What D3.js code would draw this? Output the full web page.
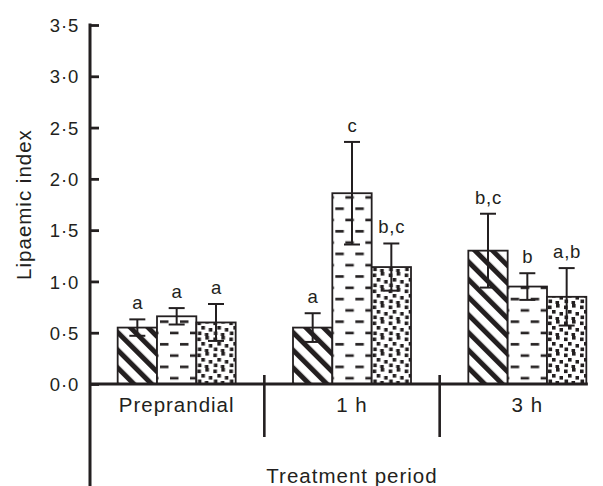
<!DOCTYPE html>
<html>
<head>
<meta charset="utf-8">
<script src="https://cdn.jsdelivr.net/npm/d3@7"></script>
<style>
  html, body { margin: 0; padding: 0; background: #fff; }
  svg { display: block; }
  text { font-family: "Liberation Sans", Arial, Helvetica, sans-serif; fill: #231f20; }
</style>
</head>
<body>
<div id="chart"></div>
<script>
// ---- data ----
const groups = ["Preprandial", "1 h", "3 h"];
const seriesKeys = ["s1", "s2", "s3"];
const values1 = [0.55, 0.55, 1.30];
const values2 = [0.66, 1.86, 0.95];
const values3 = [0.60, 1.14, 0.85];
const errors1 = [0.08, 0.14, 0.36];
const errors2 = [0.08, 0.50, 0.13];
const errors3 = [0.18, 0.23, 0.28];
const labels1 = ["a", "a", "b,c"];
const labels2 = ["a", "c", "b"];
const labels3 = ["a", "b,c", "a,b"];
const yTicks = [0, 0.5, 1.0, 1.5, 2.0, 2.5, 3.0, 3.5];
const yTitle = "Lipaemic index";
const xTitle = "Treatment period";

const seriesValues = [values1, values2, values3];
const seriesErrors = [errors1, errors2, errors3];
const seriesLabels = [labels1, labels2, labels3];
const fills = ["url(#pStripes)", "url(#pDashes)", "url(#pDots)"];

const W = 603, H = 486;
const ink = "#231f20";

const svg = d3.select("#chart").append("svg").attr("width", W).attr("height", H);

// ---- patterns ----
const defs = svg.append("defs");
const pS = defs.append("pattern").attr("id", "pStripes")
  .attr("patternUnits", "userSpaceOnUse").attr("width", 12.5).attr("height", 12.5)
  .attr("patternTransform", "rotate(-45)");
pS.append("rect").attr("width", 12.5).attr("height", 12.5).attr("fill", "#fff");
pS.append("rect").attr("width", 5).attr("height", 12.5).attr("fill", ink);

const pD = defs.append("pattern").attr("id", "pDashes")
  .attr("patternUnits", "userSpaceOnUse").attr("width", 20).attr("height", 22.6);
pD.append("rect").attr("width", 20).attr("height", 22.6).attr("fill", "#fff");
pD.append("rect").attr("x", 3).attr("y", 4).attr("width", 8.5).attr("height", 2.6).attr("fill", ink);
pD.append("rect").attr("x", 13).attr("y", 15.3).attr("width", 8.5).attr("height", 2.6).attr("fill", ink);
pD.append("rect").attr("x", -7).attr("y", 15.3).attr("width", 8.5).attr("height", 2.6).attr("fill", ink);

const pT = defs.append("pattern").attr("id", "pDots")
  .attr("patternUnits", "userSpaceOnUse").attr("width", 16).attr("height", 16);
pT.append("rect").attr("width", 16).attr("height", 16).attr("fill", "#fff");
[[1, 1.5], [9, 0], [5, 6], [12.5, 8], [1.5, 11.5], [8.5, 13]].forEach(([x, y]) => {
  pT.append("rect").attr("x", x).attr("y", y).attr("width", 3.6).attr("height", 3.6).attr("fill", ink);
});

// ---- scales ----
const y = d3.scaleLinear().domain([0, 3.5]).range([384, 25]);
const x0 = d3.scaleBand().domain(groups).range([89, 615]).paddingInner(0.327).paddingOuter(0.1635);
const x1 = d3.scaleBand().domain(seriesKeys).range([0, x0.bandwidth()]).padding(0);
const axisX = 90;

// ---- bars ----
const barData = [];
groups.forEach((g, gi) => {
  seriesKeys.forEach((k, si) => {
    barData.push({
      g, k, si,
      v: seriesValues[si][gi],
      e: seriesErrors[si][gi],
      lab: seriesLabels[si][gi]
    });
  });
});

const bars = svg.append("g").selectAll("g").data(barData).join("g")
  .attr("transform", d => `translate(${x0(d.g) + x1(d.k)},0)`);

bars.append("rect")
  .attr("x", 0).attr("width", x1.bandwidth())
  .attr("y", d => y(d.v)).attr("height", d => y(0) - y(d.v))
  .attr("fill", d => fills[d.si]).attr("stroke", ink).attr("stroke-width", 1.8);

const bw = x1.bandwidth();
const capHalf = 8;
bars.append("line")
  .attr("x1", bw / 2).attr("x2", bw / 2)
  .attr("y1", d => y(d.v + d.e)).attr("y2", d => y(d.v - d.e))
  .attr("stroke", ink).attr("stroke-width", 2);
bars.append("line")
  .attr("x1", bw / 2 - capHalf).attr("x2", bw / 2 + capHalf)
  .attr("y1", d => y(d.v + d.e)).attr("y2", d => y(d.v + d.e))
  .attr("stroke", ink).attr("stroke-width", 2);
bars.append("line")
  .attr("x1", bw / 2 - capHalf).attr("x2", bw / 2 + capHalf)
  .attr("y1", d => y(d.v - d.e)).attr("y2", d => y(d.v - d.e))
  .attr("stroke", ink).attr("stroke-width", 2);
bars.append("text")
  .attr("x", bw / 2 + 0.5).attr("y", d => y(d.v + d.e) - 10)
  .attr("text-anchor", "middle")
  .style("font-size", "18.5px").style("letter-spacing", "0.8px")
  .text(d => d.lab);

// ---- y axis ----
const yAxis = d3.axisLeft(y).tickValues(yTicks)
  .tickSizeInner(-9).tickSizeOuter(0).tickPadding(11)
  .tickFormat(d => d3.format(".1f")(d).replace(".", "·"));
const gy = svg.append("g").attr("transform", `translate(${axisX},0)`).call(yAxis);
gy.select(".domain").remove();
gy.selectAll(".tick line").attr("stroke", ink).attr("stroke-width", 2.8);
gy.selectAll(".tick text").style("font-size", "18.5px").style("letter-spacing", "0.8px")
  .attr("fill", ink).attr("dy", "0.36em");
svg.append("line").attr("x1", axisX).attr("x2", axisX)
  .attr("y1", y(3.5) - 1.4).attr("y2", H)
  .attr("stroke", ink).attr("stroke-width", 3);

// ---- x axis ----
const lastEnd = x0(groups[groups.length - 1]) + x0.bandwidth();
svg.append("line").attr("x1", axisX).attr("x2", lastEnd + 1.5)
  .attr("y1", y(0)).attr("y2", y(0))
  .attr("stroke", ink).attr("stroke-width", 2.8);

const halfGap = x0.step() * x0.paddingInner() / 2;
svg.append("g").selectAll("line").data(groups.slice(1)).join("line")
  .attr("x1", d => x0(d) - halfGap).attr("x2", d => x0(d) - halfGap)
  .attr("y1", y(0) - 9).attr("y2", 437)
  .attr("stroke", ink).attr("stroke-width", 2.6);

svg.append("g").selectAll("text").data(groups).join("text")
  .attr("x", d => x0(d) + x0.bandwidth() / 2)
  .attr("y", 412)
  .attr("text-anchor", "middle")
  .style("font-size", "20.5px").style("letter-spacing", "1px")
  .text(d => d);

// ---- titles ----
svg.append("text")
  .attr("x", (x0.range()[0] + x0.range()[1]) / 2)
  .attr("y", 483)
  .attr("text-anchor", "middle")
  .style("font-size", "20.5px").style("letter-spacing", "1px")
  .text(xTitle);

svg.append("text")
  .attr("transform", `translate(31,${(y(0) + y(3.5)) / 2}) rotate(-90)`)
  .attr("text-anchor", "middle")
  .style("font-size", "20.5px").style("letter-spacing", "1px")
  .text(yTitle);
</script>
</body>
</html>
